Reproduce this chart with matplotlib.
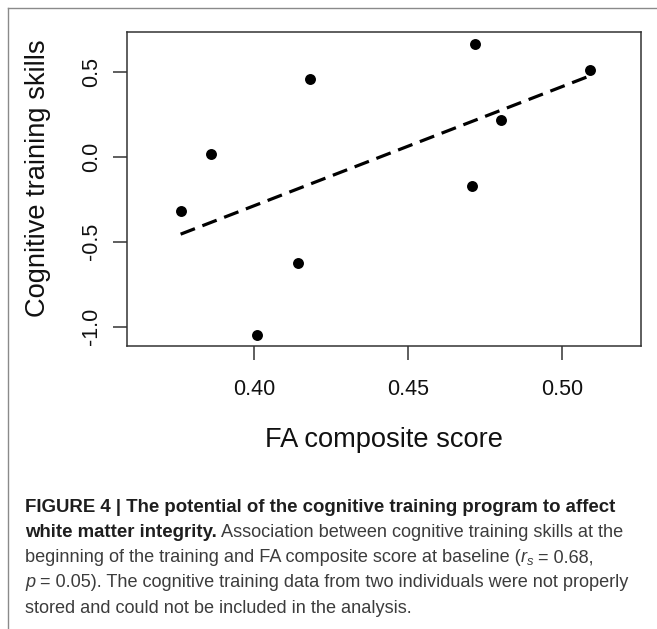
import numpy as np
import matplotlib
matplotlib.use("Agg")
import matplotlib.pyplot as plt
from matplotlib import font_manager
from matplotlib.lines import Line2D

# ---- data ----
fa_score = [0.3762, 0.3861, 0.4009, 0.4142, 0.4183, 0.4716, 0.4709, 0.4802, 0.5089]
skills = [-0.318, 0.020, -1.051, -0.625, 0.458, 0.669, -0.171, 0.2205, 0.511]
x_ticks = [0.40, 0.45, 0.50]
x_tick_labels = ["0.40", "0.45", "0.50"]
y_ticks = [-1.0, -0.5, 0.0, 0.5]
y_tick_labels = ["-1.0", "-0.5", "0.0", "0.5"]
x_label = "FA composite score"
y_label = "Cognitive training skills"

W, H = 657, 629
fig = plt.figure(figsize=(W / 100, H / 100), dpi=100)
fig.patch.set_facecolor("white")

plot_font = "Liberation Sans"

def px_box(l, t, r, b):
    return [l / W, 1 - b / H, (r - l) / W, (b - t) / H]

ax = fig.add_axes(px_box(127, 31.7, 641, 346))
x = np.array(fa_score)
y = np.array(skills)
ax.scatter(x, y, s=62, color="black", zorder=3, linewidths=0)

slope, intercept = np.polyfit(x, y, 1)
xl = np.array([x.min(), x.max()])
ax.plot(xl, slope * xl + intercept, color="black", lw=2.3,
        linestyle=(0, (4.8, 2.5)), dash_capstyle="butt", zorder=2)

ax.set_xlim(0.3588, 0.5256)
ax.set_ylim(-1.114, 0.739)
ax.set_xticks(x_ticks)
ax.set_xticklabels(x_tick_labels)
ax.set_yticks(y_ticks)
ax.set_yticklabels(y_tick_labels, rotation=90, va="center")
for sp in ax.spines.values():
    sp.set_color("#333333")
    sp.set_linewidth(1.1)
ax.tick_params(direction="out", length=10, width=1.1, color="#333333",
               labelsize=15.5, pad=8, labelcolor="#111111")
for lab in ax.get_xticklabels() + ax.get_yticklabels():
    lab.set_fontfamily(plot_font)
ax.tick_params(axis="x", pad=14)
ax.set_xlabel(x_label, fontsize=19.6, fontfamily=plot_font, color="#111111", labelpad=19)

# y label placed at measured pixel position
fig.text(38 / W, 1 - 178 / H, y_label, fontsize=19.6, fontfamily=plot_font,
         color="#111111", rotation=90, ha="center", va="center")

# ---- outer frame (left & top) ----
fig.add_artist(Line2D([8 / W, 8 / W], [0, 1 - 8 / H], transform=fig.transFigure,
                      color="#8a8a8a", lw=1.0))
fig.add_artist(Line2D([8 / W, 1], [1 - 8 / H, 1 - 8 / H], transform=fig.transFigure,
                      color="#8a8a8a", lw=1.0))

# ---- caption ----
cap_font = "Liberation Sans"
reg_size = 13.05
bold_size = 13.4
bold_col = "#1e1e1e"
reg_col = "#3c3c3c"

caption_lines = [
    [("FIGURE 4 | The potential of the cognitive training program to affect", "bold", "normal")],
    [("white matter integrity.", "bold", "normal"),
     (" Association between cognitive training skills at the", "normal", "normal")],
    [("beginning of the training and FA composite score at baseline (", "normal", "normal"),
     ("r", "normal", "italic"), ("s", "sub", "italic"), (" = 0.68,", "normal", "normal")],
    [("p", "normal", "italic"),
     (" = 0.05). The cognitive training data from two individuals were not properly", "normal", "normal")],
    [("stored and could not be included in the analysis.", "normal", "normal")],
]
line_y = [507, 532.3, 557.6, 582.9, 608.2]

renderer = fig.canvas.get_renderer()
for parts, yc in zip(caption_lines, line_y):
    xpos = 25
    for text, weight, style in parts:
        yy = yc
        w = weight
        size = bold_size if weight == "bold" else reg_size
        if weight == "sub":
            size = reg_size * 0.72
            yy = yc + 4
            w = "normal"
        t = fig.text(xpos / W, 1 - yy / H, text, fontsize=size, fontfamily=cap_font,
                     fontweight=w, fontstyle=style, va="center", ha="left",
                     color=bold_col if w == "bold" else reg_col)
        bb = t.get_window_extent(renderer=renderer)
        xpos += bb.width

fig.savefig("out.png", dpi=100, facecolor="white")
